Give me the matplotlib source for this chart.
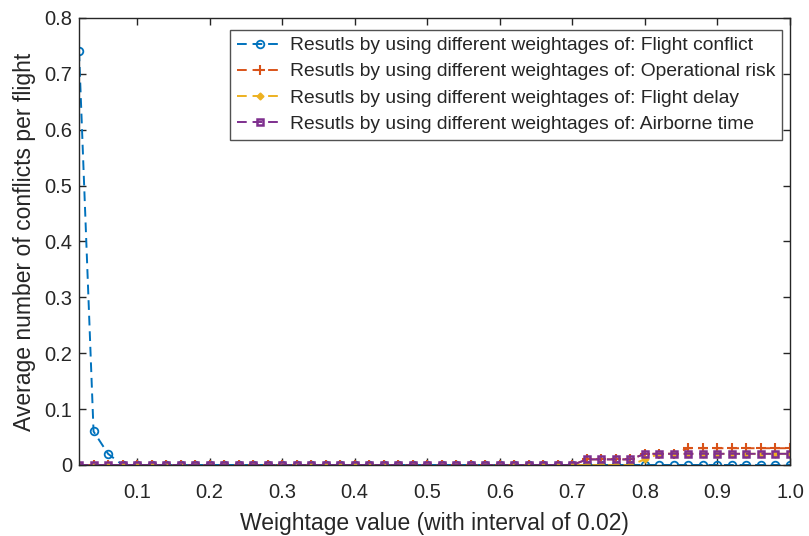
import matplotlib
matplotlib.use("Agg")
import matplotlib.pyplot as plt
import numpy as np

plt.rcParams['font.family'] = ['Liberation Sans', 'DejaVu Sans']

weights = [round(0.02 * i, 2) for i in range(1, 51)]

flight_conflict = [0.74, 0.06, 0.02] + [0.0] * 47
operational_risk = [0.0] * 35 + [0.01, 0.01, 0.01, 0.01, 0.02, 0.02, 0.02,
                                 0.03, 0.03, 0.03, 0.03, 0.03, 0.03, 0.03, 0.03]
flight_delay = [0.0] * 39 + [0.01] + [0.02] * 10
airborne_time = [0.0] * 35 + [0.01, 0.01, 0.01, 0.01] + [0.02] * 11

labels = [
    "Resutls by using different weightages of: Flight conflict",
    "Resutls by using different weightages of: Operational risk",
    "Resutls by using different weightages of: Flight delay",
    "Resutls by using different weightages of: Airborne time",
]
colors = ["#0072BD", "#D95319", "#EDB120", "#7E2F8E"]
xticks = [0.1, 0.2, 0.3, 0.4, 0.5, 0.6, 0.7, 0.8, 0.9, 1.0]
yticks = [0, 0.1, 0.2, 0.3, 0.4, 0.5, 0.6, 0.7, 0.8]

fig = plt.figure(figsize=(8.09, 5.36), dpi=100)
ax = fig.add_axes([0.0977, 0.1325, 0.8788, 0.834])

tc = "#262626"
ax.plot(weights, flight_conflict, '--', color=colors[0], lw=1.4, marker='o',
        ms=5.5, mfc='none', mew=1.3, dashes=(5, 3), label=labels[0])
ax.plot(weights, operational_risk, '--', color=colors[1], lw=1.4, marker='+',
        ms=7, mew=1.5, dashes=(5, 3), label=labels[1])
ax.plot(weights, flight_delay, '--', color=colors[2], lw=1.4, marker='D',
        ms=3.5, mfc=colors[2], mew=1.0, dashes=(5, 3), label=labels[2])
ax.plot(weights, airborne_time, '--', color=colors[3], lw=1.4, marker='s',
        ms=5, mfc='none', mew=1.8, dashes=(5, 3), label=labels[3])

ax.set_xlim(0.02, 1.0)
ax.set_ylim(0, 0.8)
ax.set_xticks(xticks)
ax.set_xticklabels([f"{v:.1f}" for v in xticks])
ax.set_yticks(yticks)
ax.set_yticklabels(["0"] + [f"{v:.1f}" for v in yticks[1:]])
ax.tick_params(direction='in', top=True, right=True, length=5, width=1,
               colors=tc, labelsize=14.5)
ax.tick_params(axis='x', pad=13)
ax.tick_params(axis='y', pad=5)
for s in ax.spines.values():
    s.set_color(tc)
    s.set_linewidth(1.0)

ax.set_xlabel("Weightage value (with interval of 0.02)", fontsize=16.5, color=tc, labelpad=7)
ax.set_ylabel("Average number of conflicts per flight", fontsize=16.5, color=tc, labelpad=6)

leg = ax.legend(loc='upper right', bbox_to_anchor=(0.989, 0.973), fontsize=13.9,
                frameon=True, fancybox=False, handlelength=2.4, borderpad=0.35,
                labelspacing=0.45, handletextpad=0.35, borderaxespad=0)
leg.get_frame().set_edgecolor(tc)
leg.get_frame().set_linewidth(1.0)
for t in leg.get_texts():
    t.set_color(tc)

fig.savefig("out.png", dpi=100)
